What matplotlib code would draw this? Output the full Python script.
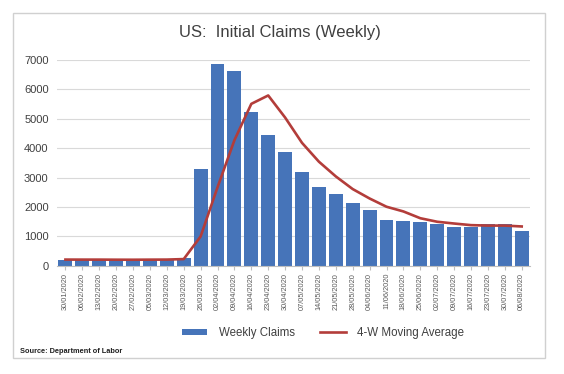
import matplotlib.pyplot as plt
from matplotlib.patches import Rectangle
import numpy as np

plt.rcParams['font.family'] = ['Liberation Sans', 'DejaVu Sans']

dates = ['30/01/2020', '06/02/2020', '13/02/2020', '20/02/2020', '27/02/2020',
         '05/03/2020', '12/03/2020', '19/03/2020', '26/03/2020', '02/04/2020',
         '09/04/2020', '16/04/2020', '23/04/2020', '30/04/2020', '07/05/2020',
         '14/05/2020', '21/05/2020', '28/05/2020', '04/06/2020', '11/06/2020',
         '18/06/2020', '25/06/2020', '02/07/2020', '09/07/2020', '16/07/2020',
         '23/07/2020', '30/07/2020', '06/08/2020']

weekly_claims = [216, 203, 204, 211, 220, 217, 211, 282, 3307, 6867,
                 6615, 5237, 4442, 3867, 3176, 2687, 2446, 2123, 1897, 1566,
                 1540, 1482, 1427, 1310, 1307, 1422, 1434, 1186]

moving_avg = [215, 214, 214, 211, 210, 213, 215, 232, 1000, 2670,
              4270, 5505, 5790, 5040, 4180, 3540, 3040, 2610, 2290, 2010,
              1850, 1620, 1500, 1440, 1385, 1370, 1370, 1340]

bar_color = '#4674b9'
line_color = '#b33d3a'
text_color = '#404040'

fig = plt.figure(figsize=(5.64, 3.74), dpi=100)
ax = fig.add_axes([0.101, 0.289, 0.839, 0.551])

x = np.arange(len(dates))
bars = ax.bar(x, weekly_claims, width=0.82, color=bar_color, label='Weekly Claims', zorder=2)
line, = ax.plot(x, moving_avg, color=line_color, lw=1.9, label='4-W Moving Average', zorder=3)

ax.set_xlim(-0.5, len(dates) - 0.5)
ax.set_ylim(0, 7000)
ax.set_yticks(range(0, 7001, 1000))
ax.yaxis.grid(True, color='#d9d9d9', lw=0.8, zorder=0)
ax.set_axisbelow(True)
ax.set_xticks(x)
ax.set_xticklabels(dates, rotation=90, fontsize=5.3, color='#595959')
ax.tick_params(axis='y', labelsize=8, colors=text_color, length=0, pad=6)
ax.tick_params(axis='x', length=3, color='#bfbfbf', pad=2)
for s in ['top', 'right', 'left']:
    ax.spines[s].set_visible(False)
ax.spines['bottom'].set_color('#bfbfbf')

fig.text(0.497, 0.912, 'US:  Initial Claims (Weekly)', ha='center', va='center',
         fontsize=12, color=text_color)

fig.legend([bars, line], ['Weekly Claims', '4-W Moving Average'],
           loc='center', bbox_to_anchor=(0.573, 0.11), ncol=2, frameon=False,
           fontsize=8.3, handlelength=2.2, handleheight=0.45, columnspacing=2.2,
           handletextpad=1.0, labelcolor=text_color)

fig.text(0.036, 0.059, 'Source: Department of Labor', fontsize=5.3,
         fontweight='bold', color='#202020', va='center')

fig.patches.append(Rectangle((0.023, 0.043), 0.943, 0.922, transform=fig.transFigure,
                             fill=False, edgecolor='#d0d0d0', lw=1))

fig.savefig('out.png', dpi=100)
